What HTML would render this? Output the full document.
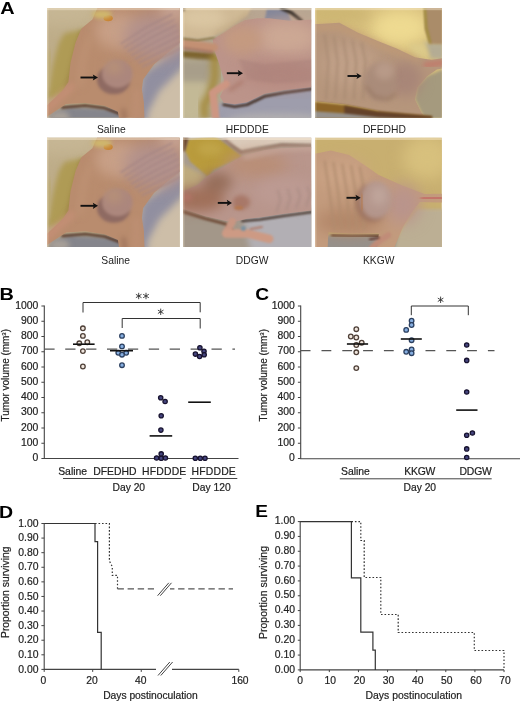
<!DOCTYPE html>
<html><head><meta charset="utf-8"><title>Figure</title>
<style>
html,body{margin:0;padding:0;background:#fff;}
body{width:520px;height:703px;overflow:hidden;font-family:"Liberation Sans",sans-serif;}
svg{display:block;position:absolute;left:0;top:0;}
text{font-family:"Liberation Sans",sans-serif;fill:#222;}
svg{opacity:0.999;}
.pl{font-weight:bold;font-size:17px;fill:#000;}
.t{font-size:10px;stroke:#222;stroke-width:0.2px;}
.ax{stroke:#444;stroke-width:1.1;fill:none;}
.tk{stroke:#444;stroke-width:1;fill:none;}
.ds{stroke:#555;stroke-width:1.2;fill:none;}
.mn{stroke:#111;stroke-width:1.6;fill:none;}
.br{stroke:#333;stroke-width:1;fill:none;}
.cs{fill:#f0e6de;stroke:#4e4038;stroke-width:1.3;}
.cb{fill:#86aee0;stroke:#2c4060;stroke-width:1.3;}
.cn{fill:#45457e;stroke:#17122f;stroke-width:1.3;}
.sv{stroke:#333;stroke-width:1.2;fill:none;}
.dt{stroke:#333;stroke-width:1.2;fill:none;stroke-dasharray:1.6 1.9;}
.dd{stroke:#555;stroke-width:1.3;fill:none;stroke-dasharray:6.4 3.7;}
</style></head><body>
<svg xmlns="http://www.w3.org/2000/svg" width="520" height="703" viewBox="0 0 520 703">

<defs>
<filter id="bl1" x="-50%" y="-50%" width="200%" height="200%" color-interpolation-filters="sRGB"><feGaussianBlur stdDeviation="1"/></filter>
<filter id="bl2" x="-50%" y="-50%" width="200%" height="200%" color-interpolation-filters="sRGB"><feGaussianBlur stdDeviation="2"/></filter>
<filter id="bl3" x="-50%" y="-50%" width="200%" height="200%" color-interpolation-filters="sRGB"><feGaussianBlur stdDeviation="3"/></filter>
<filter id="bl4" x="-50%" y="-50%" width="200%" height="200%" color-interpolation-filters="sRGB"><feGaussianBlur stdDeviation="4"/></filter>
<filter id="bl5" x="-50%" y="-50%" width="200%" height="200%" color-interpolation-filters="sRGB"><feGaussianBlur stdDeviation="5"/></filter>
<filter id="bl6" x="-50%" y="-50%" width="200%" height="200%" color-interpolation-filters="sRGB"><feGaussianBlur stdDeviation="6"/></filter>
<filter id="bl7" x="-50%" y="-50%" width="200%" height="200%" color-interpolation-filters="sRGB"><feGaussianBlur stdDeviation="7"/></filter>
<filter id="bl8" x="-50%" y="-50%" width="200%" height="200%" color-interpolation-filters="sRGB"><feGaussianBlur stdDeviation="8"/></filter>
<filter id="bl9" x="-50%" y="-50%" width="200%" height="200%" color-interpolation-filters="sRGB"><feGaussianBlur stdDeviation="9"/></filter>
<filter id="bl10" x="-50%" y="-50%" width="200%" height="200%" color-interpolation-filters="sRGB"><feGaussianBlur stdDeviation="10"/></filter>
<filter id="bl11" x="-50%" y="-50%" width="200%" height="200%" color-interpolation-filters="sRGB"><feGaussianBlur stdDeviation="11"/></filter>
<filter id="bl12" x="-50%" y="-50%" width="200%" height="200%" color-interpolation-filters="sRGB"><feGaussianBlur stdDeviation="12"/></filter>
<filter id="bl13" x="-50%" y="-50%" width="200%" height="200%" color-interpolation-filters="sRGB"><feGaussianBlur stdDeviation="13"/></filter>
<filter id="bl14" x="-50%" y="-50%" width="200%" height="200%" color-interpolation-filters="sRGB"><feGaussianBlur stdDeviation="14"/></filter>
<filter id="bl15" x="-50%" y="-50%" width="200%" height="200%" color-interpolation-filters="sRGB"><feGaussianBlur stdDeviation="15"/></filter>
<filter id="bl16" x="-50%" y="-50%" width="200%" height="200%" color-interpolation-filters="sRGB"><feGaussianBlur stdDeviation="16"/></filter>
<filter id="bl17" x="-50%" y="-50%" width="200%" height="200%" color-interpolation-filters="sRGB"><feGaussianBlur stdDeviation="17"/></filter>
<filter id="bl18" x="-50%" y="-50%" width="200%" height="200%" color-interpolation-filters="sRGB"><feGaussianBlur stdDeviation="18"/></filter>
<filter id="bl19" x="-50%" y="-50%" width="200%" height="200%" color-interpolation-filters="sRGB"><feGaussianBlur stdDeviation="19"/></filter>
<filter id="bl20" x="-50%" y="-50%" width="200%" height="200%" color-interpolation-filters="sRGB"><feGaussianBlur stdDeviation="20"/></filter>
<filter id="bl21" x="-50%" y="-50%" width="200%" height="200%" color-interpolation-filters="sRGB"><feGaussianBlur stdDeviation="21"/></filter>
<filter id="bl22" x="-50%" y="-50%" width="200%" height="200%" color-interpolation-filters="sRGB"><feGaussianBlur stdDeviation="22"/></filter>
<filter id="bl23" x="-50%" y="-50%" width="200%" height="200%" color-interpolation-filters="sRGB"><feGaussianBlur stdDeviation="23"/></filter>
<filter id="bl24" x="-50%" y="-50%" width="200%" height="200%" color-interpolation-filters="sRGB"><feGaussianBlur stdDeviation="24"/></filter>
<filter id="bl25" x="-50%" y="-50%" width="200%" height="200%" color-interpolation-filters="sRGB"><feGaussianBlur stdDeviation="25"/></filter>
<filter id="bl26" x="-50%" y="-50%" width="200%" height="200%" color-interpolation-filters="sRGB"><feGaussianBlur stdDeviation="26"/></filter>
<filter id="bl27" x="-50%" y="-50%" width="200%" height="200%" color-interpolation-filters="sRGB"><feGaussianBlur stdDeviation="27"/></filter>
<filter id="bl28" x="-50%" y="-50%" width="200%" height="200%" color-interpolation-filters="sRGB"><feGaussianBlur stdDeviation="28"/></filter>
<filter id="bl29" x="-50%" y="-50%" width="200%" height="200%" color-interpolation-filters="sRGB"><feGaussianBlur stdDeviation="29"/></filter>
<filter id="bl30" x="-50%" y="-50%" width="200%" height="200%" color-interpolation-filters="sRGB"><feGaussianBlur stdDeviation="30"/></filter>
<filter id="bl31" x="-50%" y="-50%" width="200%" height="200%" color-interpolation-filters="sRGB"><feGaussianBlur stdDeviation="31"/></filter>
<filter id="bl32" x="-50%" y="-50%" width="200%" height="200%" color-interpolation-filters="sRGB"><feGaussianBlur stdDeviation="32"/></filter>
<filter id="bl33" x="-50%" y="-50%" width="200%" height="200%" color-interpolation-filters="sRGB"><feGaussianBlur stdDeviation="33"/></filter>
<filter id="bl34" x="-50%" y="-50%" width="200%" height="200%" color-interpolation-filters="sRGB"><feGaussianBlur stdDeviation="34"/></filter>
<filter id="bl35" x="-50%" y="-50%" width="200%" height="200%" color-interpolation-filters="sRGB"><feGaussianBlur stdDeviation="35"/></filter>
<filter id="bl36" x="-50%" y="-50%" width="200%" height="200%" color-interpolation-filters="sRGB"><feGaussianBlur stdDeviation="36"/></filter>
<filter id="bl37" x="-50%" y="-50%" width="200%" height="200%" color-interpolation-filters="sRGB"><feGaussianBlur stdDeviation="37"/></filter>
<filter id="bl38" x="-50%" y="-50%" width="200%" height="200%" color-interpolation-filters="sRGB"><feGaussianBlur stdDeviation="38"/></filter>
<filter id="bl39" x="-50%" y="-50%" width="200%" height="200%" color-interpolation-filters="sRGB"><feGaussianBlur stdDeviation="39"/></filter>
<filter id="bl40" x="-50%" y="-50%" width="200%" height="200%" color-interpolation-filters="sRGB"><feGaussianBlur stdDeviation="40"/></filter>
</defs>
<clipPath id="cp1"><rect x="47" y="8" width="132.6" height="109.8"/></clipPath>
<g clip-path="url(#cp1)"><g transform="translate(47,8) scale(0.25500,0.25535)">
<g filter="url(#bl7)">
<rect x="-40" y="-40" width="600" height="510" fill="#BEAD89"/>
</g>
<g filter="url(#bl30)">
<ellipse cx="60" cy="10" rx="200" ry="60" fill="#C6B694" />
</g>
<g filter="url(#bl10)">
<polygon points="150,85 100,92 68,100 47,135 34,180 22,230 10,300 0,360 80,330 120,200 140,120" fill="#AF9B55" />
</g>
<g filter="url(#bl8)">
<polyline points="138,95 112,180 96,250 80,310" fill="none" stroke="#9D8443" stroke-width="18" stroke-linecap="round" stroke-linejoin="round" />
</g>
<g filter="url(#bl14)">
<polyline points="10,180 5,300" fill="none" stroke="#BAA972" stroke-width="26" stroke-linecap="round" stroke-linejoin="round" />
</g>
<g filter="url(#bl8)">
<polygon points="20,405 90,385 300,395 300,480 -10,480" fill="#85858C" />
</g>
<g filter="url(#bl10)">
<ellipse cx="50" cy="425" rx="40" ry="20" fill="#A8A098" />
</g>
<g filter="url(#bl4)">
<polyline points="60,390 150,382 226,392 285,414" fill="none" stroke="#5A3C2D" stroke-width="10" stroke-linecap="round" stroke-linejoin="round" />
</g>
<g filter="url(#bl7)">
<polygon points="560,120 560,480 360,480 365,300 430,215" fill="#CDBEA8" />
</g>
<g filter="url(#bl14)">
<polygon points="373,262 499,165 560,135 560,205 440,325 395,410 390,480 340,480" fill="#918FA0" />
</g>
<g filter="url(#bl3)">
<polygon points="215,-40 178,45 135,80 112,135 92,215 84,290 62,322 -40,420 -40,455 7,421 75,376 150,372 226,383 278,406 290,480 384,480 380,370 372,320 377,280 420,220 470,178 560,105 560,-40" fill="#B98C6E" />
</g>
<g filter="url(#bl24)">
<ellipse cx="280" cy="90" rx="90" ry="70" fill="#C8A087" />
</g>
<g filter="url(#bl30)">
<ellipse cx="430" cy="110" rx="130" ry="90" fill="#B2918C" />
</g>
<g filter="url(#bl20)">
<ellipse cx="500" cy="10" rx="60" ry="40" fill="#C4A090" />
</g>
<g filter="url(#bl12)">
<polyline points="-20,412 55,345 100,305" fill="none" stroke="#C89078" stroke-width="20" stroke-linecap="round" stroke-linejoin="round" />
</g>
<g filter="url(#bl14)">
<polyline points="165,120 140,200 128,300" fill="none" stroke="#BE9274" stroke-width="22" stroke-linecap="round" stroke-linejoin="round" />
</g>
<g filter="url(#bl5)">
<polyline points="290,140 390,75 490,25" fill="none" stroke="#A68684" stroke-width="5" stroke-linecap="round" stroke-linejoin="round" />
<polyline points="304,155 402,94 498,46" fill="none" stroke="#A68684" stroke-width="5" stroke-linecap="round" stroke-linejoin="round" />
<polyline points="318,170 414,113 506,67" fill="none" stroke="#A68684" stroke-width="5" stroke-linecap="round" stroke-linejoin="round" />
<polyline points="332,185 426,132 514,88" fill="none" stroke="#A68684" stroke-width="5" stroke-linecap="round" stroke-linejoin="round" />
<polyline points="346,200 438,151 522,109" fill="none" stroke="#A68684" stroke-width="5" stroke-linecap="round" stroke-linejoin="round" />
<polyline points="360,215 450,170 530,130" fill="none" stroke="#A68684" stroke-width="5" stroke-linecap="round" stroke-linejoin="round" />
<polyline points="374,230 462,189 538,151" fill="none" stroke="#A68684" stroke-width="5" stroke-linecap="round" stroke-linejoin="round" />
</g>
<g filter="url(#bl10)">
<polyline points="300,400 310,470" fill="none" stroke="#9A7058" stroke-width="14" stroke-linecap="round" stroke-linejoin="round" />
<polyline points="350,330 352,470" fill="none" stroke="#BC8E72" stroke-width="30" stroke-linecap="round" stroke-linejoin="round" />
</g>
<g filter="url(#bl7)">
<ellipse cx="262" cy="280" rx="66" ry="58" fill="#8E6A62" />
<ellipse cx="276" cy="258" rx="60" ry="55" fill="#AC877D" />
</g>
<g filter="url(#bl16)">
<ellipse cx="262" cy="232" rx="34" ry="28" fill="#B69078" />
</g>
<g filter="url(#bl3)">
<ellipse cx="240" cy="40" rx="18" ry="12" fill="#C88232" />
</g>
<g filter="url(#bl8)">
<ellipse cx="215" cy="25" rx="40" ry="16" fill="#D0B86C" />
</g>
</g></g>
<rect x="47" y="8" width="132.6" height="2.2" fill="#fff2dc" opacity="0.4"/>
<rect x="47" y="8" width="1.4" height="109.8" fill="#fff2dc" opacity="0.3"/>
<path d="M80.5 77.5H94" stroke="#111" stroke-width="1.9" fill="none"/><path d="M98 77.5L92.8 74.4L93.8 77.5L92.8 80.6Z" fill="#111"/>
<clipPath id="cp2"><rect x="183" y="8" width="128.2" height="109.8"/></clipPath>
<g clip-path="url(#cp2)"><g transform="translate(183,8) scale(0.24654,0.24564)">
<g filter="url(#bl7)">
<rect x="-40" y="-40" width="600" height="527" fill="#B2A893"/>
</g>
<g filter="url(#bl20)">
<ellipse cx="30" cy="340" rx="80" ry="140" fill="#C3B996" />
</g>
<g filter="url(#bl7)">
<polygon points="-40,172 125,184 140,215 60,212 -40,200" fill="#7A6028" />
</g>
<g filter="url(#bl14)">
<polygon points="-40,205 120,215 110,300 -40,300" fill="#A89E8A" />
</g>
<g filter="url(#bl12)">
<polyline points="128,200 130,280 112,350 85,395 88,440" fill="none" stroke="#A58C41" stroke-width="34" stroke-linecap="round" stroke-linejoin="round" />
</g>
<g filter="url(#bl8)">
<polygon points="140,390 560,300 560,480 120,480" fill="#9E9DAC" />
</g>
<g filter="url(#bl16)">
<ellipse cx="380" cy="455" rx="200" ry="26" fill="#B2AFB0" />
</g>
<g filter="url(#bl6)">
<polygon points="240,-40 560,-40 560,60 240,60" fill="#B8A692" />
</g>
<g filter="url(#bl5)">
<polygon points="340,5 420,5 440,55 330,55" fill="#80859A" />
</g>
<g filter="url(#bl4)">
<polyline points="400,2 440,20 480,52" fill="none" stroke="#28231E" stroke-width="14" stroke-linecap="round" stroke-linejoin="round" />
<polyline points="165,394 210,402 260,394 330,360 410,345 530,328" fill="none" stroke="#463228" stroke-width="11" stroke-linecap="round" stroke-linejoin="round" />
</g>
<g filter="url(#bl3)">
<polygon points="120,128 165,100 210,70 250,50 300,42 350,42 430,52 480,50 560,45 560,318 410,334 330,349 260,384 210,392 165,386 150,360 168,325 165,288 145,223 130,180" fill="#BC948A" />
</g>
<g filter="url(#bl30)">
<ellipse cx="420" cy="120" rx="130" ry="70" fill="#CCA894" />
</g>
<g filter="url(#bl24)">
<ellipse cx="240" cy="130" rx="80" ry="60" fill="#C49A80" />
</g>
<g filter="url(#bl30)">
<ellipse cx="400" cy="270" rx="160" ry="50" fill="#B6897F" />
</g>
<g filter="url(#bl6)">
<polyline points="230,215 330,235 440,225 530,215" fill="none" stroke="#A67E78" stroke-width="5" stroke-linecap="round" stroke-linejoin="round" />
<polyline points="236,229 338,248 446,239 530,230" fill="none" stroke="#A67E78" stroke-width="5" stroke-linecap="round" stroke-linejoin="round" />
<polyline points="242,243 346,261 452,253 530,245" fill="none" stroke="#A67E78" stroke-width="5" stroke-linecap="round" stroke-linejoin="round" />
<polyline points="248,257 354,274 458,267 530,260" fill="none" stroke="#A67E78" stroke-width="5" stroke-linecap="round" stroke-linejoin="round" />
<polyline points="254,271 362,287 464,281 530,275" fill="none" stroke="#A67E78" stroke-width="5" stroke-linecap="round" stroke-linejoin="round" />
<polyline points="260,285 370,300 470,295 530,290" fill="none" stroke="#A67E78" stroke-width="5" stroke-linecap="round" stroke-linejoin="round" />
<polyline points="-20,140 60,150 125,160" fill="none" stroke="#C39073" stroke-width="34" stroke-linecap="round" stroke-linejoin="round" />
<polyline points="-20,162 60,172 120,180" fill="none" stroke="#9E6858" stroke-width="8" stroke-linecap="round" stroke-linejoin="round" />
</g>
<g filter="url(#bl5)">
<polyline points="-20,122 60,130 125,120" fill="none" stroke="#8A7440" stroke-width="8" stroke-linecap="round" stroke-linejoin="round" />
</g>
<g filter="url(#bl4)">
<polygon points="-40,-40 300,-40 260,30 210,65 165,95 125,115 60,125 -40,112" fill="#D0BA96" />
</g>
<g filter="url(#bl20)">
<ellipse cx="80" cy="40" rx="90" ry="40" fill="#DAC6A2" />
</g>
<g filter="url(#bl10)">
<polyline points="130,108 215,58 262,22" fill="none" stroke="#BCA47E" stroke-width="10" stroke-linecap="round" stroke-linejoin="round" />
</g>
<g filter="url(#bl4)">
<polygon points="-40,-40 10,-40 6,12 -40,22" fill="#6A563C" />
</g>
<g filter="url(#bl5)">
<polyline points="175,310 120,345 128,400 135,470" fill="none" stroke="#CD9682" stroke-width="30" stroke-linecap="round" stroke-linejoin="round" />
</g>
<g filter="url(#bl8)">
<polyline points="240,300 190,335" fill="none" stroke="#A87466" stroke-width="10" stroke-linecap="round" stroke-linejoin="round" />
</g>
</g></g>
<rect x="183" y="8" width="128.2" height="2.2" fill="#fff2dc" opacity="0.4"/>
<rect x="183" y="8" width="1.4" height="109.8" fill="#fff2dc" opacity="0.3"/>
<path d="M226.8 73.2H239" stroke="#111" stroke-width="1.9" fill="none"/><path d="M243 73.2L237.8 70.10000000000001L238.8 73.2L237.8 76.3Z" fill="#111"/>
<clipPath id="cp3"><rect x="315" y="8" width="126.8" height="109.8"/></clipPath>
<g clip-path="url(#cp3)"><g transform="translate(315,8) scale(0.24385,0.24564)">
<g filter="url(#bl7)">
<rect x="-40" y="-40" width="600" height="527" fill="#D6BE7C"/>
</g>
<g filter="url(#bl30)">
<ellipse cx="350" cy="80" rx="120" ry="75" fill="#EEDA91" />
</g>
<g filter="url(#bl24)">
<ellipse cx="80" cy="20" rx="140" ry="40" fill="#CDB673" />
</g>
<g filter="url(#bl6)">
<polygon points="560,235 460,278 420,323 410,373 435,423 470,480 560,480" fill="#A59A7E" />
</g>
<g filter="url(#bl8)">
<polygon points="445,140 560,140 560,215 470,205" fill="#B4AC94" />
</g>
<g filter="url(#bl10)">
<polygon points="380,150 450,140 470,205 410,200" fill="#DCCA8A" />
</g>
<g filter="url(#bl4)">
<polygon points="447,-40 560,-40 560,148 470,146 452,90" fill="#AA8C69" />
</g>
<g filter="url(#bl5)">
<polyline points="450,-10 456,80 472,140" fill="none" stroke="#A08C3C" stroke-width="10" stroke-linecap="round" stroke-linejoin="round" />
</g>
<g filter="url(#bl3)">
<polygon points="-40,66 15,65 100,60 175,100 260,135 335,165 410,200 480,212 560,196 560,240 500,250 460,278 420,323 410,373 435,423 480,480 260,480 260,418 125,393 -40,376" fill="#B6967C" />
</g>
<g filter="url(#bl30)">
<ellipse cx="140" cy="230" rx="110" ry="90" fill="#C0A088" />
</g>
<g filter="url(#bl14)">
<polyline points="0,80 100,76 180,112 260,148 340,180 420,212" fill="none" stroke="#C49C74" stroke-width="16" stroke-linecap="round" stroke-linejoin="round" />
</g>
<g filter="url(#bl24)">
<ellipse cx="370" cy="290" rx="70" ry="70" fill="#A88678" />
</g>
<g filter="url(#bl7)">
<polyline points="40,110 55,220 45,370" fill="none" stroke="#A88A72" stroke-width="7" stroke-linecap="round" stroke-linejoin="round" />
<polyline points="78,118 93,220 83,370" fill="none" stroke="#A88A72" stroke-width="7" stroke-linecap="round" stroke-linejoin="round" />
<polyline points="116,126 131,220 121,370" fill="none" stroke="#A88A72" stroke-width="7" stroke-linecap="round" stroke-linejoin="round" />
<polyline points="154,134 169,220 159,370" fill="none" stroke="#A88A72" stroke-width="7" stroke-linecap="round" stroke-linejoin="round" />
<polyline points="192,142 207,220 197,370" fill="none" stroke="#A88A72" stroke-width="7" stroke-linecap="round" stroke-linejoin="round" />
</g>
<g filter="url(#bl8)">
<polyline points="455,232 560,218" fill="none" stroke="#C07C6C" stroke-width="22" stroke-linecap="round" stroke-linejoin="round" />
</g>
<g filter="url(#bl10)">
<ellipse cx="268" cy="300" rx="68" ry="78" fill="#AA8C7A" />
</g>
<g filter="url(#bl8)">
<polyline points="210,320 245,362 300,372 330,350" fill="none" stroke="#94745E" stroke-width="8" stroke-linecap="round" stroke-linejoin="round" />
</g>
<g filter="url(#bl14)">
<ellipse cx="285" cy="255" rx="40" ry="36" fill="#B89A88" />
</g>
<g filter="url(#bl4)">
<polygon points="-40,378 125,395 260,420 480,440 480,480 -40,480" fill="#8C6428" />
</g>
<g filter="url(#bl5)">
<polygon points="120,398 260,422 480,442 480,480 120,480" fill="#64422A" />
<polygon points="-40,418 110,428 260,445 480,455 480,480 -40,480" fill="#96918C" />
</g>
</g></g>
<rect x="315" y="8" width="126.8" height="2.2" fill="#fff2dc" opacity="0.4"/>
<rect x="315" y="8" width="1.4" height="109.8" fill="#fff2dc" opacity="0.3"/>
<path d="M347.5 76H357.7" stroke="#111" stroke-width="1.9" fill="none"/><path d="M361.7 76L356.5 72.9L357.5 76L356.5 79.1Z" fill="#111"/>
<clipPath id="cp4"><rect x="47" y="137.8" width="132.6" height="109.3"/></clipPath>
<g clip-path="url(#cp4)"><g transform="translate(47,136.8) scale(0.25500,0.25419)">
<g filter="url(#bl7)">
<rect x="-40" y="-40" width="600" height="510" fill="#BEAD89"/>
</g>
<g filter="url(#bl30)">
<ellipse cx="60" cy="10" rx="200" ry="60" fill="#C6B694" />
</g>
<g filter="url(#bl10)">
<polygon points="150,85 100,92 68,100 47,135 34,180 22,230 10,300 0,360 80,330 120,200 140,120" fill="#AF9B55" />
</g>
<g filter="url(#bl8)">
<polyline points="138,95 112,180 96,250 80,310" fill="none" stroke="#9D8443" stroke-width="18" stroke-linecap="round" stroke-linejoin="round" />
</g>
<g filter="url(#bl14)">
<polyline points="10,180 5,300" fill="none" stroke="#BAA972" stroke-width="26" stroke-linecap="round" stroke-linejoin="round" />
</g>
<g filter="url(#bl8)">
<polygon points="20,405 90,385 300,395 300,480 -10,480" fill="#85858C" />
</g>
<g filter="url(#bl10)">
<ellipse cx="50" cy="425" rx="40" ry="20" fill="#A8A098" />
</g>
<g filter="url(#bl4)">
<polyline points="60,390 150,382 226,392 285,414" fill="none" stroke="#5A3C2D" stroke-width="10" stroke-linecap="round" stroke-linejoin="round" />
</g>
<g filter="url(#bl7)">
<polygon points="560,120 560,480 360,480 365,300 430,215" fill="#CDBEA8" />
</g>
<g filter="url(#bl14)">
<polygon points="373,262 499,165 560,135 560,205 440,325 395,410 390,480 340,480" fill="#918FA0" />
</g>
<g filter="url(#bl3)">
<polygon points="215,-40 178,45 135,80 112,135 92,215 84,290 62,322 -40,420 -40,455 7,421 75,376 150,372 226,383 278,406 290,480 384,480 380,370 372,320 377,280 420,220 470,178 560,105 560,-40" fill="#B98C6E" />
</g>
<g filter="url(#bl24)">
<ellipse cx="280" cy="90" rx="90" ry="70" fill="#C8A087" />
</g>
<g filter="url(#bl30)">
<ellipse cx="430" cy="110" rx="130" ry="90" fill="#B2918C" />
</g>
<g filter="url(#bl20)">
<ellipse cx="500" cy="10" rx="60" ry="40" fill="#C4A090" />
</g>
<g filter="url(#bl12)">
<polyline points="-20,412 55,345 100,305" fill="none" stroke="#C89078" stroke-width="20" stroke-linecap="round" stroke-linejoin="round" />
</g>
<g filter="url(#bl14)">
<polyline points="165,120 140,200 128,300" fill="none" stroke="#BE9274" stroke-width="22" stroke-linecap="round" stroke-linejoin="round" />
</g>
<g filter="url(#bl5)">
<polyline points="290,140 390,75 490,25" fill="none" stroke="#A68684" stroke-width="5" stroke-linecap="round" stroke-linejoin="round" />
<polyline points="304,155 402,94 498,46" fill="none" stroke="#A68684" stroke-width="5" stroke-linecap="round" stroke-linejoin="round" />
<polyline points="318,170 414,113 506,67" fill="none" stroke="#A68684" stroke-width="5" stroke-linecap="round" stroke-linejoin="round" />
<polyline points="332,185 426,132 514,88" fill="none" stroke="#A68684" stroke-width="5" stroke-linecap="round" stroke-linejoin="round" />
<polyline points="346,200 438,151 522,109" fill="none" stroke="#A68684" stroke-width="5" stroke-linecap="round" stroke-linejoin="round" />
<polyline points="360,215 450,170 530,130" fill="none" stroke="#A68684" stroke-width="5" stroke-linecap="round" stroke-linejoin="round" />
<polyline points="374,230 462,189 538,151" fill="none" stroke="#A68684" stroke-width="5" stroke-linecap="round" stroke-linejoin="round" />
</g>
<g filter="url(#bl10)">
<polyline points="300,400 310,470" fill="none" stroke="#9A7058" stroke-width="14" stroke-linecap="round" stroke-linejoin="round" />
<polyline points="350,330 352,470" fill="none" stroke="#BC8E72" stroke-width="30" stroke-linecap="round" stroke-linejoin="round" />
</g>
<g filter="url(#bl7)">
<ellipse cx="262" cy="280" rx="66" ry="58" fill="#8E6A62" />
<ellipse cx="276" cy="258" rx="60" ry="55" fill="#AC877D" />
</g>
<g filter="url(#bl16)">
<ellipse cx="262" cy="232" rx="34" ry="28" fill="#B69078" />
</g>
<g filter="url(#bl3)">
<ellipse cx="240" cy="40" rx="18" ry="12" fill="#C88232" />
</g>
<g filter="url(#bl8)">
<ellipse cx="215" cy="25" rx="40" ry="16" fill="#D0B86C" />
</g>
</g></g>
<rect x="47" y="137.8" width="132.6" height="2.2" fill="#fff2dc" opacity="0.4"/>
<rect x="47" y="137.8" width="1.4" height="109.3" fill="#fff2dc" opacity="0.3"/>
<path d="M80.5 205.8H94" stroke="#111" stroke-width="1.9" fill="none"/><path d="M98 205.8L92.8 202.70000000000002L93.8 205.8L92.8 208.9Z" fill="#111"/>
<clipPath id="cp5"><rect x="183" y="137.8" width="128.2" height="109.2"/></clipPath>
<g clip-path="url(#cp5)"><g transform="translate(183,137.8) scale(0.24654,0.24650)">
<g filter="url(#bl7)">
<rect x="-40" y="-40" width="600" height="523" fill="#A89C8E"/>
</g>
<g filter="url(#bl8)">
<polygon points="-40,90 100,155 60,195 -40,240" fill="#BEAA7D" />
</g>
<g filter="url(#bl4)">
<polygon points="20,8 125,-10 240,75 125,130 100,157 30,97 8,50" fill="#B99B3C" />
</g>
<g filter="url(#bl14)">
<ellipse cx="110" cy="45" rx="50" ry="28" fill="#C0A448" />
</g>
<g filter="url(#bl5)">
<polygon points="-40,-40 30,-40 18,20 8,55 -40,60" fill="#6E4A30" />
<polygon points="120,-40 560,-40 560,26 400,22 300,36 240,52 180,20" fill="#DCCCBC" />
</g>
<g filter="url(#bl6)">
<polyline points="170,8 235,60 300,50 400,30 540,34" fill="none" stroke="#8A6656" stroke-width="10" stroke-linecap="round" stroke-linejoin="round" />
</g>
<g filter="url(#bl10)">
<polygon points="-40,280 560,280 560,480 -40,480" fill="#A39789" />
</g>
<g filter="url(#bl14)">
<polygon points="240,320 560,290 560,480 280,480" fill="#B2AFB4" />
</g>
<g filter="url(#bl5)">
<polyline points="-10,296 90,328 175,350 200,380" fill="none" stroke="#6E4B37" stroke-width="12" stroke-linecap="round" stroke-linejoin="round" />
</g>
<g filter="url(#bl4)">
<polyline points="240,338 310,332 410,317 540,299" fill="none" stroke="#46372F" stroke-width="9" stroke-linecap="round" stroke-linejoin="round" />
</g>
<g filter="url(#bl3)">
<polygon points="-40,235 60,190 100,155 240,75 330,50 400,42 560,36 560,290 410,308 310,323 260,328 215,340 175,338 90,318 0,288 -40,280" fill="#B9968C" />
</g>
<g filter="url(#bl30)">
<ellipse cx="300" cy="110" rx="130" ry="50" fill="#B98E76" />
</g>
<g filter="url(#bl24)">
<ellipse cx="60" cy="250" rx="110" ry="50" fill="#A0705A" />
<ellipse cx="140" cy="180" rx="60" ry="40" fill="#966E5A" />
<ellipse cx="420" cy="220" rx="130" ry="60" fill="#BC9A92" />
</g>
<g filter="url(#bl10)">
<polyline points="250,78 400,46 560,40" fill="none" stroke="#C8AA9C" stroke-width="14" stroke-linecap="round" stroke-linejoin="round" />
</g>
<g filter="url(#bl8)">
<ellipse cx="236" cy="262" rx="36" ry="30" fill="#A87868" />
</g>
<g filter="url(#bl5)">
<ellipse cx="226" cy="284" rx="18" ry="8" fill="#B47850" />
</g>
<g filter="url(#bl10)">
<ellipse cx="16" cy="242" rx="22" ry="14" fill="#B27468" />
</g>
<g filter="url(#bl7)">
<polyline points="380,300 395,250 385,215" fill="none" stroke="#A88A82" stroke-width="6" stroke-linecap="round" stroke-linejoin="round" />
<polyline points="420,292 435,244 425,210" fill="none" stroke="#A88A82" stroke-width="6" stroke-linecap="round" stroke-linejoin="round" />
<polyline points="460,284 475,238 465,205" fill="none" stroke="#A88A82" stroke-width="6" stroke-linecap="round" stroke-linejoin="round" />
<polyline points="500,276 515,232 505,200" fill="none" stroke="#A88A82" stroke-width="6" stroke-linecap="round" stroke-linejoin="round" />
</g>
<g filter="url(#bl5)">
<polyline points="200,340 175,385" fill="none" stroke="#C89682" stroke-width="30" stroke-linecap="round" stroke-linejoin="round" />
<polyline points="175,388 260,388 350,410" fill="none" stroke="#CD9A84" stroke-width="34" stroke-linecap="round" stroke-linejoin="round" />
</g>
<g filter="url(#bl4)">
<polyline points="275,370 320,362" fill="none" stroke="#B07C6C" stroke-width="8" stroke-linecap="round" stroke-linejoin="round" />
<ellipse cx="245" cy="368" rx="10" ry="10" fill="#7890A0" />
</g>
</g></g>
<rect x="183" y="137.8" width="128.2" height="2.2" fill="#fff2dc" opacity="0.4"/>
<rect x="183" y="137.8" width="1.4" height="109.2" fill="#fff2dc" opacity="0.3"/>
<path d="M217.8 202.9H228.0" stroke="#111" stroke-width="1.9" fill="none"/><path d="M232.0 202.9L226.8 199.8L227.8 202.9L226.8 206.0Z" fill="#111"/>
<clipPath id="cp6"><rect x="315" y="137.8" width="126.8" height="109.2"/></clipPath>
<g clip-path="url(#cp6)"><g transform="translate(315,137.8) scale(0.24385,0.24650)">
<g filter="url(#bl7)">
<rect x="-40" y="-40" width="600" height="523" fill="#C8AF70"/>
</g>
<g filter="url(#bl30)">
<ellipse cx="460" cy="80" rx="100" ry="90" fill="#D7C07D" />
</g>
<g filter="url(#bl6)">
<polygon points="420,290 560,290 560,480 300,480 360,363" fill="#BCAF94" />
</g>
<g filter="url(#bl5)">
<polyline points="425,277 560,277" fill="none" stroke="#C8AA4B" stroke-width="18" stroke-linecap="round" stroke-linejoin="round" />
</g>
<g filter="url(#bl6)">
<polygon points="40,395 340,395 320,480 40,480" fill="#96918C" />
</g>
<g filter="url(#bl4)">
<polyline points="70,395 150,398 285,397" fill="none" stroke="#5A3723" stroke-width="10" stroke-linecap="round" stroke-linejoin="round" />
</g>
<g filter="url(#bl3)">
<polygon points="-40,68 0,65 65,52 140,70 210,115 260,150 360,195 450,228 560,226 560,262 500,262 430,260 400,298 360,363 335,423 310,480 250,480 262,388 150,388 55,383 50,480 -40,480" fill="#C39B7D" />
</g>
<g filter="url(#bl30)">
<ellipse cx="110" cy="150" rx="100" ry="60" fill="#CCA486" />
<ellipse cx="140" cy="340" rx="140" ry="50" fill="#B28668" />
<ellipse cx="360" cy="270" rx="70" ry="80" fill="#B9948C" />
</g>
<g filter="url(#bl7)">
<polyline points="40,95 60,230 80,370" fill="none" stroke="#B08C6E" stroke-width="8" stroke-linecap="round" stroke-linejoin="round" />
<polyline points="76,101 96,230 110,370" fill="none" stroke="#B08C6E" stroke-width="8" stroke-linecap="round" stroke-linejoin="round" />
<polyline points="112,107 132,230 140,370" fill="none" stroke="#B08C6E" stroke-width="8" stroke-linecap="round" stroke-linejoin="round" />
<polyline points="148,113 168,230 170,370" fill="none" stroke="#B08C6E" stroke-width="8" stroke-linecap="round" stroke-linejoin="round" />
<polyline points="184,119 204,230 200,370" fill="none" stroke="#B08C6E" stroke-width="8" stroke-linecap="round" stroke-linejoin="round" />
</g>
<g filter="url(#bl6)">
<polyline points="445,246 560,244" fill="none" stroke="#C37369" stroke-width="24" stroke-linecap="round" stroke-linejoin="round" />
</g>
<g filter="url(#bl8)">
<ellipse cx="236" cy="262" rx="70" ry="80" fill="#9E7460" />
<ellipse cx="250" cy="252" rx="64" ry="76" fill="#B4968C" />
</g>
<g filter="url(#bl20)">
<ellipse cx="262" cy="235" rx="34" ry="40" fill="#C0A69C" />
</g>
<g filter="url(#bl6)">
<polyline points="190,230 192,290" fill="none" stroke="#B87846" stroke-width="8" stroke-linecap="round" stroke-linejoin="round" />
</g>
<g filter="url(#bl5)">
<polyline points="300,395 262,420 235,445" fill="none" stroke="#C08C78" stroke-width="24" stroke-linecap="round" stroke-linejoin="round" />
</g>
<g filter="url(#bl4)">
<polyline points="225,412 262,405" fill="none" stroke="#5A2C24" stroke-width="7" stroke-linecap="round" stroke-linejoin="round" />
</g>
</g></g>
<rect x="315" y="137.8" width="126.8" height="2.2" fill="#fff2dc" opacity="0.4"/>
<rect x="315" y="137.8" width="1.4" height="109.2" fill="#fff2dc" opacity="0.3"/>
<path d="M346.5 197.8H356.7" stroke="#111" stroke-width="1.9" fill="none"/><path d="M360.7 197.8L355.5 194.70000000000002L356.5 197.8L355.5 200.9Z" fill="#111"/>
<text class="pl" transform="translate(0.3,14.3) scale(1.17,1)">A</text>
<text class="pl" transform="translate(-0.5,299.7) scale(1.17,1)">B</text>
<text class="pl" transform="translate(255.2,299.7) scale(1.13,1)">C</text>
<text class="pl" transform="translate(-1.1,518.2) scale(1.15,1)">D</text>
<text class="pl" transform="translate(255.3,517.2) scale(1.12,1)">E</text>
<text x="111.3" y="133" text-anchor="middle" style="font-size:10.3px">Saline</text>
<text x="247.3" y="133" text-anchor="middle" style="font-size:10.3px">HFDDDE</text>
<text x="384.4" y="133" text-anchor="middle" style="font-size:10.3px">DFEDHD</text>
<text x="115.6" y="263.8" text-anchor="middle" style="font-size:10.3px">Saline</text>
<text x="252.1" y="263.8" text-anchor="middle" style="font-size:10.3px">DDGW</text>
<text x="378.7" y="263.8" text-anchor="middle" style="font-size:10.3px">KKGW</text>
<path class="ax" d="M44.3 305.5V458.5H238.5"/>
<path class="tk" d="M41.4 458.50H44.3"/>
<text class="t" x="38.4" y="461.10" text-anchor="end" style="font-size:10.4px">0</text>
<path class="tk" d="M41.4 443.25H44.3"/>
<text class="t" x="38.4" y="445.85" text-anchor="end" style="font-size:10.4px">100</text>
<path class="tk" d="M41.4 428.00H44.3"/>
<text class="t" x="38.4" y="430.60" text-anchor="end" style="font-size:10.4px">200</text>
<path class="tk" d="M41.4 412.75H44.3"/>
<text class="t" x="38.4" y="415.35" text-anchor="end" style="font-size:10.4px">300</text>
<path class="tk" d="M41.4 397.50H44.3"/>
<text class="t" x="38.4" y="400.10" text-anchor="end" style="font-size:10.4px">400</text>
<path class="tk" d="M41.4 382.25H44.3"/>
<text class="t" x="38.4" y="384.85" text-anchor="end" style="font-size:10.4px">500</text>
<path class="tk" d="M41.4 367.00H44.3"/>
<text class="t" x="38.4" y="369.60" text-anchor="end" style="font-size:10.4px">600</text>
<path class="tk" d="M41.4 351.75H44.3"/>
<text class="t" x="38.4" y="354.35" text-anchor="end" style="font-size:10.4px">700</text>
<path class="tk" d="M41.4 336.50H44.3"/>
<text class="t" x="38.4" y="339.10" text-anchor="end" style="font-size:10.4px">800</text>
<path class="tk" d="M41.4 321.25H44.3"/>
<text class="t" x="38.4" y="323.85" text-anchor="end" style="font-size:10.4px">900</text>
<path class="tk" d="M41.4 306.00H44.3"/>
<text class="t" x="38.4" y="308.60" text-anchor="end" style="font-size:10.4px">1000</text>
<text class="t" transform="translate(9.3,421.5) rotate(-90)" style="font-size:10px" textLength="92.5">Tumor volume (mm<tspan dy="-3" style="font-size:6px">3</tspan><tspan dy="3">)</tspan></text>
<path class="ds" d="M44.3 349.2H235" stroke-dasharray="10.3 10.6"/>
<path class="br" d="M83 312.5V302.5H200.2V312.3"/>
<path class="br" d="M122.2 328V318.5H200.2V328.5"/>
<path d="M138.7 292.8V299.2M135.89999999999998 294.3L141.5 297.7M135.89999999999998 297.7L141.5 294.3" stroke="#333" stroke-width="0.9" fill="none"/>
<path d="M146 292.8V299.2M143.2 294.3L148.8 297.7M143.2 297.7L148.8 294.3" stroke="#333" stroke-width="0.9" fill="none"/>
<path d="M160.7 308.6V315.0M157.89999999999998 310.1L163.5 313.5M157.89999999999998 313.5L163.5 310.1" stroke="#333" stroke-width="0.9" fill="none"/>
<circle class="cs" cx="82.9" cy="328.3" r="2.3"/>
<circle class="cs" cx="82.9" cy="335.9" r="2.3"/>
<circle class="cs" cx="79.3" cy="343.3" r="2.3"/>
<circle class="cs" cx="87.3" cy="342.2" r="2.3"/>
<circle class="cs" cx="82.9" cy="351.1" r="2.3"/>
<circle class="cs" cx="82.9" cy="366.5" r="2.3"/>
<circle class="cb" cx="122" cy="335.9" r="2.3"/>
<circle class="cb" cx="122" cy="346.4" r="2.3"/>
<circle class="cb" cx="118.3" cy="352.8" r="2.3"/>
<circle class="cb" cx="126.2" cy="352.8" r="2.3"/>
<circle class="cb" cx="122" cy="354.7" r="2.3"/>
<circle class="cb" cx="122" cy="365.2" r="2.3"/>
<circle class="cn" cx="160.7" cy="397.8" r="2.15"/>
<circle class="cn" cx="165.1" cy="401.5" r="2.15"/>
<circle class="cn" cx="161.2" cy="415.8" r="2.15"/>
<circle class="cn" cx="160.9" cy="430.1" r="2.15"/>
<circle class="cn" cx="161.2" cy="453.9" r="2.15"/>
<circle class="cn" cx="156.6" cy="458" r="2.15"/>
<circle class="cn" cx="161.2" cy="458.2" r="2.15"/>
<circle class="cn" cx="165.4" cy="458" r="2.15"/>
<circle class="cn" cx="199.9" cy="347.7" r="2.15"/>
<circle class="cn" cx="204" cy="351.3" r="2.15"/>
<circle class="cn" cx="195.4" cy="354.1" r="2.15"/>
<circle class="cn" cx="199.6" cy="356.5" r="2.15"/>
<circle class="cn" cx="204.2" cy="354.8" r="2.15"/>
<circle class="cn" cx="195.3" cy="458.2" r="2.15"/>
<circle class="cn" cx="200.3" cy="458.2" r="2.15"/>
<circle class="cn" cx="205" cy="458.2" r="2.15"/>
<text class="t" x="58.2" y="475.2" textLength="28.8" style="font-size:10.4px">Saline</text>
<text class="t" x="93.2" y="475.2" textLength="43.2" style="font-size:10.4px">DFEDHD</text>
<text class="t" x="142" y="475.2" textLength="44.3" style="font-size:10.4px">HFDDDE</text>
<text class="t" x="191.5" y="475.2" textLength="44.3" style="font-size:10.4px">HFDDDE</text>
<path class="tk" d="M63 478.5H181.5M190 478.5H237.3"/>
<text class="t" x="128.8" y="490.7" text-anchor="middle" style="font-size:10.3px">Day 20</text>
<text class="t" x="211.5" y="490.7" text-anchor="middle" style="font-size:10.3px">Day 120</text>
<path class="ax" d="M300.7 305.5V458.7H520"/>
<path class="tk" d="M297.9 458.50H300.7"/>
<text class="t" x="294.9" y="461.10" text-anchor="end" style="font-size:10.4px">0</text>
<path class="tk" d="M297.9 443.25H300.7"/>
<text class="t" x="294.9" y="445.85" text-anchor="end" style="font-size:10.4px">100</text>
<path class="tk" d="M297.9 428.00H300.7"/>
<text class="t" x="294.9" y="430.60" text-anchor="end" style="font-size:10.4px">200</text>
<path class="tk" d="M297.9 412.75H300.7"/>
<text class="t" x="294.9" y="415.35" text-anchor="end" style="font-size:10.4px">300</text>
<path class="tk" d="M297.9 397.50H300.7"/>
<text class="t" x="294.9" y="400.10" text-anchor="end" style="font-size:10.4px">400</text>
<path class="tk" d="M297.9 382.25H300.7"/>
<text class="t" x="294.9" y="384.85" text-anchor="end" style="font-size:10.4px">500</text>
<path class="tk" d="M297.9 367.00H300.7"/>
<text class="t" x="294.9" y="369.60" text-anchor="end" style="font-size:10.4px">600</text>
<path class="tk" d="M297.9 351.75H300.7"/>
<text class="t" x="294.9" y="354.35" text-anchor="end" style="font-size:10.4px">700</text>
<path class="tk" d="M297.9 336.50H300.7"/>
<text class="t" x="294.9" y="339.10" text-anchor="end" style="font-size:10.4px">800</text>
<path class="tk" d="M297.9 321.25H300.7"/>
<text class="t" x="294.9" y="323.85" text-anchor="end" style="font-size:10.4px">900</text>
<path class="tk" d="M297.9 306.00H300.7"/>
<text class="t" x="294.9" y="308.60" text-anchor="end" style="font-size:10.4px">1000</text>
<text class="t" transform="translate(267,421.5) rotate(-90)" style="font-size:10px" textLength="92.5">Tumor volume (mm<tspan dy="-3" style="font-size:6px">3</tspan><tspan dy="3">)</tspan></text>
<path class="ds" d="M300.7 350.6H494.5" stroke-dasharray="9.8 11"/>
<path class="br" d="M411.3 315.2V306H468.3V315.2"/>
<path d="M440.6 296.6V303.0M437.8 298.1L443.40000000000003 301.5M437.8 301.5L443.40000000000003 298.1" stroke="#333" stroke-width="0.9" fill="none"/>
<circle class="cs" cx="356.3" cy="329.2" r="2.3"/>
<circle class="cs" cx="350.8" cy="336.5" r="2.3"/>
<circle class="cs" cx="356.3" cy="337.5" r="2.3"/>
<circle class="cs" cx="361.7" cy="342.7" r="2.3"/>
<circle class="cs" cx="356.3" cy="345" r="2.3"/>
<circle class="cs" cx="356.3" cy="352.3" r="2.3"/>
<circle class="cs" cx="356.3" cy="368.1" r="2.3"/>
<circle class="cb" cx="411.6" cy="320.7" r="2.3"/>
<circle class="cb" cx="411.6" cy="325" r="2.3"/>
<circle class="cb" cx="406.2" cy="329.9" r="2.3"/>
<circle class="cb" cx="411.6" cy="340.2" r="2.3"/>
<circle class="cb" cx="411.6" cy="349.5" r="2.3"/>
<circle class="cb" cx="406.2" cy="351.8" r="2.3"/>
<circle class="cb" cx="411.6" cy="353.2" r="2.3"/>
<circle class="cn" cx="466.7" cy="345" r="2.15"/>
<circle class="cn" cx="466.7" cy="360.4" r="2.15"/>
<circle class="cn" cx="466.7" cy="392" r="2.15"/>
<circle class="cn" cx="466.7" cy="435.2" r="2.15"/>
<circle class="cn" cx="472.4" cy="433" r="2.15"/>
<circle class="cn" cx="466.7" cy="448.9" r="2.15"/>
<circle class="cn" cx="466.7" cy="457.5" r="2.15"/>
<text class="t" x="341" y="474.5" textLength="28.8" style="font-size:10.4px">Saline</text>
<text class="t" x="404.2" y="474.5" textLength="31.2" style="font-size:10.4px">KKGW</text>
<text class="t" x="459.4" y="474.5" textLength="32.5" style="font-size:10.4px">DDGW</text>
<path class="tk" d="M339.8 478.8H491.7"/>
<text class="t" x="419.8" y="491.2" text-anchor="middle" style="font-size:10.3px">Day 20</text>
<path class="ax" d="M44.2 523.0V669.4H238.8"/>
<path class="tk" d="M41.400000000000006 669.40H44.2"/>
<text class="t" x="38.5" y="672.60" text-anchor="end" style="font-size:10.4px">0.00</text>
<path class="tk" d="M41.400000000000006 654.81H44.2"/>
<text class="t" x="38.5" y="658.01" text-anchor="end" style="font-size:10.4px">0.10</text>
<path class="tk" d="M41.400000000000006 640.22H44.2"/>
<text class="t" x="38.5" y="643.42" text-anchor="end" style="font-size:10.4px">0.20</text>
<path class="tk" d="M41.400000000000006 625.63H44.2"/>
<text class="t" x="38.5" y="628.83" text-anchor="end" style="font-size:10.4px">0.30</text>
<path class="tk" d="M41.400000000000006 611.04H44.2"/>
<text class="t" x="38.5" y="614.24" text-anchor="end" style="font-size:10.4px">0.40</text>
<path class="tk" d="M41.400000000000006 596.45H44.2"/>
<text class="t" x="38.5" y="599.65" text-anchor="end" style="font-size:10.4px">0.50</text>
<path class="tk" d="M41.400000000000006 581.86H44.2"/>
<text class="t" x="38.5" y="585.06" text-anchor="end" style="font-size:10.4px">0.60</text>
<path class="tk" d="M41.400000000000006 567.27H44.2"/>
<text class="t" x="38.5" y="570.47" text-anchor="end" style="font-size:10.4px">0.70</text>
<path class="tk" d="M41.400000000000006 552.68H44.2"/>
<text class="t" x="38.5" y="555.88" text-anchor="end" style="font-size:10.4px">0.80</text>
<path class="tk" d="M41.400000000000006 538.09H44.2"/>
<text class="t" x="38.5" y="541.29" text-anchor="end" style="font-size:10.4px">0.90</text>
<path class="tk" d="M41.400000000000006 523.50H44.2"/>
<text class="t" x="38.5" y="526.70" text-anchor="end" style="font-size:10.4px">1.00</text>
<text class="t" transform="translate(8.6,638) rotate(-90)" style="font-size:10.3px" textLength="91.6">Proportion surviving</text>
<path class="tk" d="M44.2 669.4V671.9"/>
<path class="tk" d="M92.7 669.4V671.9"/>
<path class="tk" d="M141.25 669.4V671.9"/>
<path class="tk" d="M238.8 669.4V671.9"/>
<text class="t" x="43.4" y="684.3" text-anchor="middle" style="font-size:10.3px">0</text>
<text class="t" x="92" y="684.3" text-anchor="middle" style="font-size:10.3px">20</text>
<text class="t" x="140.8" y="684.3" text-anchor="middle" style="font-size:10.3px">40</text>
<text class="t" x="240" y="684.3" text-anchor="middle" style="font-size:10.3px">160</text>
<text class="t" x="103.2" y="698.6" style="font-size:10.3px" textLength="94.5">Days postinoculation</text>
<path class="sv" d="M44.2 523.5H95V541.7H97.6V632.3H101.2V669.4"/>
<path class="dt" d="M95 523.5H109.4V561L112.3 566.7V575.4H117.5V588.8"/>
<path class="dd" d="M117.5 588.8H233"/>
<path d="M154 586h16v6h-16z" fill="#fff" stroke="none"/>
<path d="M156 666h16v6h-16z" fill="#fff" stroke="none"/>
<path class="tk" d="M157.6 595.7L168.8 582.8M160.3 595.7L171.5 582.8"/>
<path class="tk" d="M158 675.5L169.8 662M160.8 675.5L172.6 662"/>
<path class="ax" d="M300.2 521.1V669.9H504"/>
<path class="tk" d="M297.8 669.90H300.2"/>
<text class="t" x="295.0" y="672.50" text-anchor="end" style="font-size:10.4px">0.00</text>
<path class="tk" d="M297.8 655.07H300.2"/>
<text class="t" x="295.0" y="657.67" text-anchor="end" style="font-size:10.4px">0.10</text>
<path class="tk" d="M297.8 640.24H300.2"/>
<text class="t" x="295.0" y="642.84" text-anchor="end" style="font-size:10.4px">0.20</text>
<path class="tk" d="M297.8 625.41H300.2"/>
<text class="t" x="295.0" y="628.01" text-anchor="end" style="font-size:10.4px">0.30</text>
<path class="tk" d="M297.8 610.58H300.2"/>
<text class="t" x="295.0" y="613.18" text-anchor="end" style="font-size:10.4px">0.40</text>
<path class="tk" d="M297.8 595.75H300.2"/>
<text class="t" x="295.0" y="598.35" text-anchor="end" style="font-size:10.4px">0.50</text>
<path class="tk" d="M297.8 580.92H300.2"/>
<text class="t" x="295.0" y="583.52" text-anchor="end" style="font-size:10.4px">0.60</text>
<path class="tk" d="M297.8 566.09H300.2"/>
<text class="t" x="295.0" y="568.69" text-anchor="end" style="font-size:10.4px">0.70</text>
<path class="tk" d="M297.8 551.26H300.2"/>
<text class="t" x="295.0" y="553.86" text-anchor="end" style="font-size:10.4px">0.80</text>
<path class="tk" d="M297.8 536.43H300.2"/>
<text class="t" x="295.0" y="539.03" text-anchor="end" style="font-size:10.4px">0.90</text>
<path class="tk" d="M297.8 521.60H300.2"/>
<text class="t" x="295.0" y="524.20" text-anchor="end" style="font-size:10.4px">1.00</text>
<text class="t" transform="translate(266.8,639) rotate(-90)" style="font-size:10.4px" textLength="93">Proportion surviving</text>
<path class="tk" d="M300.20 669.9V672.1"/>
<text class="t" x="300.20" y="684.3" text-anchor="middle" style="font-size:10.3px">0</text>
<path class="tk" d="M329.32 669.9V672.1"/>
<text class="t" x="330.32" y="684.3" text-anchor="middle" style="font-size:10.3px">10</text>
<path class="tk" d="M358.44 669.9V672.1"/>
<text class="t" x="359.44" y="684.3" text-anchor="middle" style="font-size:10.3px">20</text>
<path class="tk" d="M387.56 669.9V672.1"/>
<text class="t" x="388.56" y="684.3" text-anchor="middle" style="font-size:10.3px">30</text>
<path class="tk" d="M416.68 669.9V672.1"/>
<text class="t" x="417.68" y="684.3" text-anchor="middle" style="font-size:10.3px">40</text>
<path class="tk" d="M445.80 669.9V672.1"/>
<text class="t" x="446.80" y="684.3" text-anchor="middle" style="font-size:10.3px">50</text>
<path class="tk" d="M474.92 669.9V672.1"/>
<text class="t" x="475.92" y="684.3" text-anchor="middle" style="font-size:10.3px">60</text>
<path class="tk" d="M504.04 669.9V672.1"/>
<text class="t" x="505.04" y="684.3" text-anchor="middle" style="font-size:10.3px">70</text>
<text class="t" x="365.4" y="699.2" style="font-size:10.4px" textLength="96.7">Days postinoculation</text>
<path class="sv" d="M300.2 521.6H351.4V577.8H360.8V632.2H372.9V650.2H375.3V669.9"/>
<path class="dt" d="M351.4 521.6H360.8V540.5H364.2V577.5H380.8V614.5H398.2V632.5H474.3V650.5H504V669.9"/>
<path class="mn" d="M73 344.2H94.6"/>
<path class="mn" d="M110 350.7H133"/>
<path class="mn" d="M149.6 435.9H172.2"/>
<path class="mn" d="M188.2 402.2H210.8"/>
<path class="mn" d="M346.9 344H368.1"/>
<path class="mn" d="M400.8 339H421.8"/>
<path class="mn" d="M456.2 410.1H477.5"/>
</svg></body></html>
